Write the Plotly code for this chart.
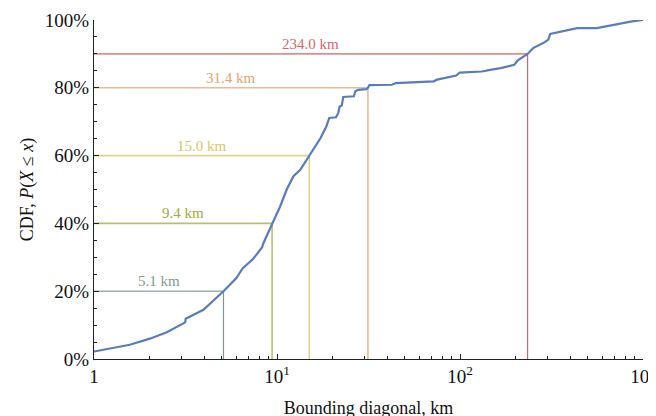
import math
import plotly.graph_objects as go

diag_km = [1.0, 1.57, 2.02, 2.5, 3.15, 3.17, 3.96, 4.5, 5.1, 6.0, 6.5, 7.4, 8.3, 8.4, 8.6,
           9.4, 10.4, 11.3, 12.3, 13.4, 15.0, 16.3, 17.3, 18.6, 19.3, 21.0, 21.6, 22.0,
           22.6, 23.0, 26.3, 26.8, 27.8, 30.8, 31.4, 32.0, 42.5, 44.6, 60.0, 71.8, 75.0,
           83.8, 95.4, 99.6, 131.8, 146.0, 167.0, 198.0, 207.0, 234.0, 251.0, 285.0,
           304.0, 311.0, 436.0, 560.0, 870.0, 1000.0]
cdf_pct = [2.2, 4.2, 6.0, 7.9, 10.8, 11.9, 14.5, 17.3, 20.0, 23.9, 26.8, 29.5, 33.0, 34.0, 35.2,
           40.0, 45.0, 50.0, 53.9, 55.8, 60.0, 63.2, 65.2, 68.6, 71.1, 71.3, 72.5, 74.5,
           74.8, 77.3, 77.5, 79.0, 79.4, 79.6, 80.0, 80.8, 80.9, 81.4, 81.7, 81.9, 82.4,
           82.9, 83.6, 84.5, 84.8, 85.3, 85.8, 86.8, 88.1, 90.0, 91.7, 93.2,
           94.2, 95.9, 97.6, 97.6, 99.6, 100.0]

# Quantile markers
q_levels = [0.2, 0.4, 0.6, 0.8, 0.9]
q_values = [5.1, 9.4, 15.0, 31.4, 234.0]
q_labels = ["5.1 km", "9.4 km", "15.0 km", "31.4 km", "234.0 km"]
q_colors = ["#7c9a8c", "#a3ab3c", "#dcc466", "#e8a26e", "#d4676c"]

x_ticks = [1, 10, 100, 1000]
x_ticktext = ["1", "10<sup>1</sup>", "10<sup>2</sup>", "10<sup>3</sup>"]
y_ticks = [0, 0.2, 0.4, 0.6, 0.8, 1.0]

FONT = "Liberation Serif"

fig = go.Figure()

for lvl, q, col in zip(q_levels, q_values, q_colors):
    fig.add_trace(go.Scatter(x=[1, q], y=[lvl, lvl], mode="lines",
                             line=dict(color=col, width=1.6), opacity=0.75,
                             hoverinfo="skip", showlegend=False))
    fig.add_trace(go.Scatter(x=[q, q], y=[0, lvl], mode="lines",
                             line=dict(color=col, width=1.2),
                             hoverinfo="skip", showlegend=False))

fig.add_trace(go.Scatter(x=diag_km, y=[v / 100 for v in cdf_pct], mode="lines",
                         line=dict(color="#5a7cbd", width=2.2, shape="linear"),
                         showlegend=False))

for lvl, q, lab, col in zip(q_levels, q_values, q_labels, q_colors):
    fig.add_annotation(x=0.5 * math.log10(q), y=lvl, xref="x", yref="y",
                       text=lab, showarrow=False, yshift=10,
                       font=dict(family=FONT, size=15, color=col))

fig.update_xaxes(type="log", range=[0, 3], tickvals=x_ticks, ticktext=x_ticktext,
                 ticks="inside", ticklen=5, tickwidth=1, tickcolor="#222",
                 showline=True, linecolor="#222", linewidth=1.3, showgrid=False,
                 zeroline=False, automargin=False,
                 tickfont=dict(family=FONT, size=19, color="#111"),
                 minor=dict(ticks="inside", ticklen=3, tickcolor="#222", dtick="D1", showgrid=False),
                 title=dict(text="Bounding diagonal, km", standoff=15,
                            font=dict(family=FONT, size=18, color="#111")))
fig.update_yaxes(range=[0, 1], tickvals=y_ticks, tickformat=".0%",
                 ticks="inside", ticklen=5, tickwidth=1, tickcolor="#222",
                 showline=True, linecolor="#222", linewidth=1.3, showgrid=False,
                 zeroline=False, automargin=False,
                 tickfont=dict(family=FONT, size=19, color="#111"),
                 minor=dict(ticks="inside", ticklen=3, tickcolor="#222", dtick=0.05, showgrid=False),
                 title=dict(text="CDF, <i>P</i>(<i>X</i> ≤ <i>x</i>)", standoff=6,
                            font=dict(family=FONT, size=18, color="#111")))

# the page body adds an 8px offset, so margins are set to put the plot area where the reference has it
fig.update_layout(width=656, height=416, plot_bgcolor="white", paper_bgcolor="white",
                  margin=dict(l=86, r=21, t=12, b=65), showlegend=False)

fig.write_html("out.html")
